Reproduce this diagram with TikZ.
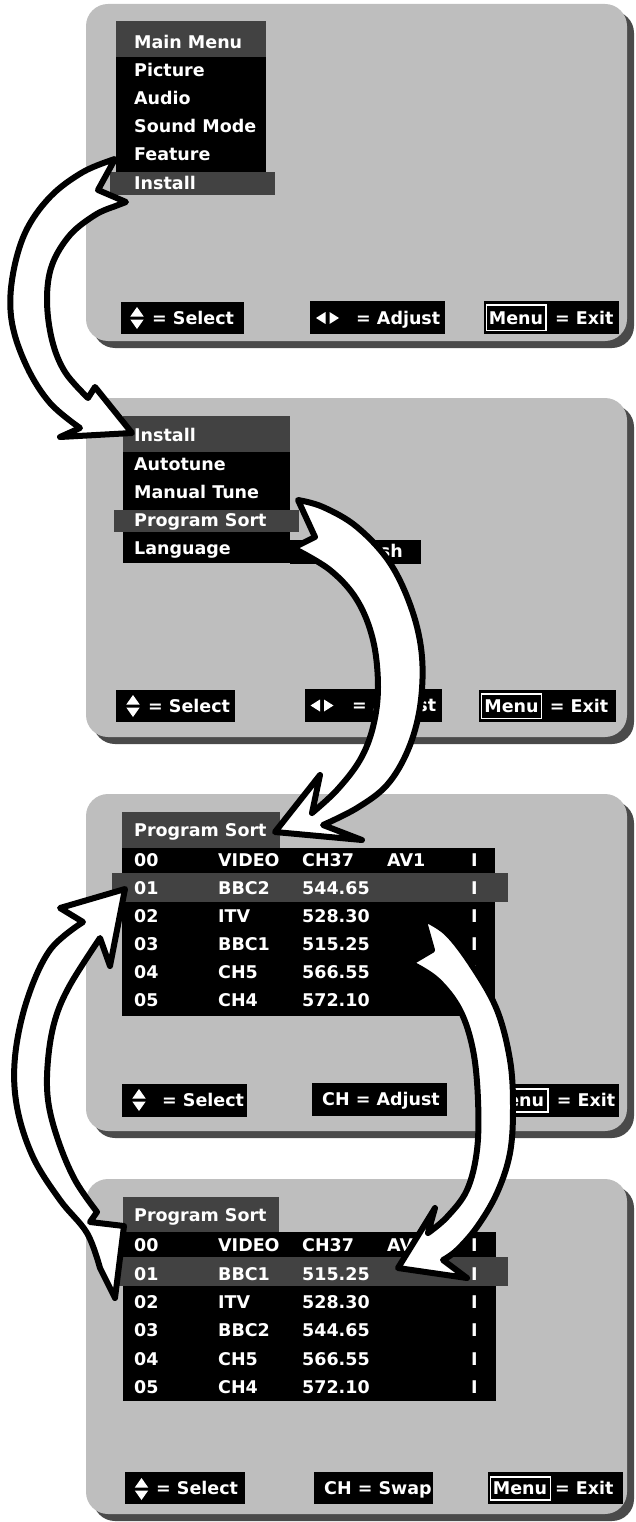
\documentclass[tikz,border=0pt]{standalone}
\usepackage{fontspec}
\setmainfont{DejaVu Sans}
\definecolor{panelgray}{RGB}{190,190,190}
\definecolor{hdrgray}{RGB}{66,66,66}
\definecolor{shadowgray}{RGB}{74,74,74}
\newcommand\udicon[2]{%
  \fill[white] ({#1-6.7},{#2-1.5}) -- ({#1+6.7},{#2-1.5}) -- ({#1},{#2-11}) -- cycle;
  \fill[white] ({#1-6.7},{#2+1.5}) -- ({#1+6.7},{#2+1.5}) -- ({#1},{#2+11}) -- cycle;}
\newcommand\lricon[2]{%
  \fill[white] ({#1-2},{#2-6}) -- ({#1-2},{#2+6}) -- ({#1-11.5},{#2}) -- cycle;
  \fill[white] ({#1+2},{#2-6}) -- ({#1+2},{#2+6}) -- ({#1+11.5},{#2}) -- cycle;}
\newcommand\tvpanel[2]{%
  \fill[shadowgray, rounded corners=22pt] (93,{#1+7}) rectangle (634,{#2+7});
  \fill[panelgray, rounded corners=22pt] (86,#1) rectangle (627,#2);}
\begin{document}
\begin{tikzpicture}[x=1pt,y=-1pt,
  txt/.style={text=white, font=\bfseries\fontsize{17.5}{17.5}\selectfont, inner sep=0pt,
    text height=12.7pt, text depth=0pt, anchor=west},
  txtc/.style={txt, anchor=center},
  menuframe/.style={draw=white, line width=1.6pt},
  bigarrow/.style={fill=white, draw=black, line width=6pt, line join=round}]
\useasboundingbox (0,0) rectangle (636,1522);
% ---------------- panels
\tvpanel{4}{341}
\tvpanel{398}{737}
\tvpanel{794}{1131}
\tvpanel{1179}{1514}
% ---------------- panel 1
\fill[hdrgray] (116,21) rectangle (266,57);
\fill[black] (116,57) rectangle (266,172);
\fill[hdrgray] (110,172) rectangle (275,195);
\node[txt] (p1h) at (134,42.5) {Main Menu};
\node[txt] (p1a) at (134,70) {Picture};
\node[txt] (p1b) at (134,98) {Audio};
\node[txt] (p1c) at (134,126) {Sound Mode};
\node[txt] (p1d) at (134,154) {Feature};
\node[txt] (p1e) at (134,183.5) {Install};
\fill[black] (121,302) rectangle (244,334);
\udicon{137}{318}
\node[txt] (p1s) at (152,318) {= Select};
\fill[black] (310,301) rectangle (445,334);
\lricon{327.5}{318}
\node[txt] (p1adj) at (356,318) {= Adjust};
\fill[black] (484,301) rectangle (619,334);
\draw[menuframe] (486.5,305) rectangle (546,330.5);
\node[txtc] (p1m) at (516,318) {Menu};
\node[txt] (p1x) at (555,318) {= Exit};
% ---------------- panel 2
\fill[hdrgray] (122.5,416) rectangle (290,452);
\fill[black] (122.5,452) rectangle (290,563);
\fill[hdrgray] (113.6,510) rectangle (299,532);
\fill[black] (290,540) rectangle (420.5,564);
\node[txt] (p2h) at (134,435) {Install};
\node[txt] (p2a) at (134,464) {Autotune};
\node[txt] (p2b) at (134,492) {Manual Tune};
\node[txt] (p2c) at (134,520.5) {Program Sort};
\node[txt] (p2d) at (134,548) {Language};
\node[txt, anchor=east] (p2e) at (403,551) {English};
\fill[black] (116,690) rectangle (234.5,722);
\udicon{133}{706}
\node[txt] (p2s) at (148,706) {= Select};
\fill[black] (305,689) rectangle (442,722);
\lricon{322}{705.5}
\node[txt] (p2adj) at (352,705.5) {= Adjust};
\fill[black] (479,690) rectangle (616,722);
\draw[menuframe] (481.5,694) rectangle (541.5,718.5);
\node[txtc] (p2m) at (511.5,706) {Menu};
\node[txt] (p2x) at (549.6,706) {= Exit};
% ---------------- panel 3
\fill[hdrgray] (121.7,812) rectangle (280,848);
\fill[black] (121.7,848) rectangle (495,1016);
\fill[hdrgray] (112,873) rectangle (508,902);
\node[txt] (p3h) at (134,830) {Program Sort};
\foreach \r/\a/\b/\c/\d [count=\k from 0] in
  {00/VIDEO/CH37/AV1/I, 01/BBC2/544.65//I, 02/ITV/528.30//I, 03/BBC1/515.25//I, 04/CH5/566.55//I, 05/CH4/572.10//I}{
  \node[txt] (p3r\k a) at (134,{860+28*\k}) {\r};
  \node[txt] (p3r\k b) at (218,{860+28*\k}) {\a};
  \node[txt] (p3r\k c) at (302,{860+28*\k}) {\b};
  \node[txt] (p3r\k d) at (387,{860+28*\k}) {\c};
  \node[txt] (p3r\k e) at (471,{860+28*\k}) {\d};
}
\fill[black] (122,1084) rectangle (247,1117);
\udicon{139}{1100}
\node[txt] (p3s) at (162,1100) {= Select};
\fill[black] (312,1083) rectangle (446.6,1116);
\node[txt] (p3adj) at (322,1099.5) {CH = Adjust};
\fill[black] (484,1084) rectangle (619,1117);
\draw[menuframe] (486.5,1089) rectangle (548,1112);
\node[txtc] (p3m) at (517,1100) {Menu};
\node[txt] (p3x) at (556.7,1100) {= Exit};
% ---------------- panel 4
\fill[hdrgray] (123,1197) rectangle (279,1232);
\fill[black] (123,1232) rectangle (496,1401);
\fill[hdrgray] (112,1257) rectangle (508,1286);
\node[txt] (p4h) at (134,1215) {Program Sort};
\foreach \r/\a/\b/\c/\d [count=\k from 0] in
  {00/VIDEO/CH37/AV1/I, 01/BBC1/515.25//I, 02/ITV/528.30//I, 03/BBC2/544.65//I, 04/CH5/566.55//I, 05/CH4/572.10//I}{
  \node[txt] (p4r\k a) at (134,{1245.5+28.3*\k}) {\r};
  \node[txt] (p4r\k b) at (218,{1245.5+28.3*\k}) {\a};
  \node[txt] (p4r\k c) at (302,{1245.5+28.3*\k}) {\b};
  \node[txt] (p4r\k d) at (387,{1245.5+28.3*\k}) {\c};
  \node[txt] (p4r\k e) at (471,{1245.5+28.3*\k}) {\d};
}
\fill[black] (125,1472) rectangle (245,1504);
\udicon{141.5}{1489}
\node[txt] (p4s) at (156,1488) {= Select};
\fill[black] (313.5,1472) rectangle (433,1504);
\node[txt] (p4sw) at (324,1488) {CH = Swap};
\fill[black] (488,1472) rectangle (623,1504);
\draw[menuframe] (490.5,1477) rectangle (550.4,1500);
\node[txtc] (p4m) at (520,1488.5) {Menu};
\node[txt] (p4x) at (555,1488) {= Exit};
% ---------------- arrows
\draw[bigarrow] plot[smooth,tension=.6] coordinates {(115,159) (83,172) (50,197) (25,233) (12,280) (12,323) (27,367) (50,403) (80,428)}
  -- (60,437) -- (132,433) -- (95,387) -- (88,398)
  -- plot[smooth,tension=.6] coordinates {(88,398) (65,372) (52,340) (47,300) (52,265) (70,235) (95,215) (113,207)}
  -- (126,202) -- (98,190) -- cycle;
\draw[bigarrow] plot[smooth,tension=.6] coordinates {(298,500) (323,507) (357,527) (390,563) (412,610) (422,657) (420,707) (408,750) (387,785) (357,808) (323,825)}
  -- (362,840) -- (275,832) -- (320,775) -- (312,813)
  -- plot[smooth,tension=.6] coordinates {(312,813) (337,790) (360,760) (373,727) (378,687) (373,640) (357,600) (330,570) (293,548)}
  -- (315,537) -- cycle;
\draw[bigarrow] plot[smooth,tension=.6] coordinates {(83,922) (50,950) (27,1000) (15,1057) (17,1107) (33,1157) (60,1200) (87,1233) (100,1268)}
  -- (115,1298) -- (124,1226) -- (90,1222) -- (97,1212)
  -- plot[smooth,tension=.6] coordinates {(97,1212) (75,1180) (58,1140) (48,1100) (48,1060) (55,1020) (70,985) (100,938)}
  -- (110,966) -- (125,889) -- (60,908) -- cycle;
\draw[bigarrow] plot[smooth,tension=.6] coordinates {(423,918) (447,933) (473,967) (497,1010) (510,1060) (513,1107) (510,1153) (497,1193) (477,1227) (457,1250) (443,1260)}
  -- (467,1278) -- (398,1268) -- (435,1208) -- (428,1233)
  -- plot[smooth,tension=.6] coordinates {(428,1233) (447,1217) (467,1190) (477,1150) (478,1100) (473,1050) (460,1010) (437,980) (410,963)}
  -- (432,950) -- cycle;
\end{tikzpicture}
\end{document}
